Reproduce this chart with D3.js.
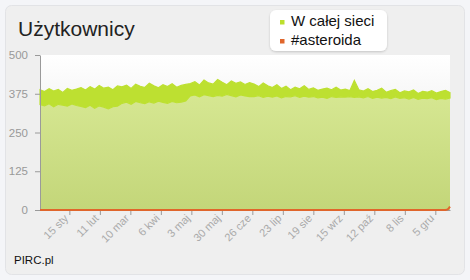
<!DOCTYPE html>
<html><head><meta charset="utf-8">
<script src="https://cdn.jsdelivr.net/npm/d3@7"></script>
<style>
html,body{margin:0;padding:0;background:#f4f5f8;}
svg{display:block;font-family:"Liberation Sans",Arial,sans-serif;}
</style></head>
<body><svg id="c" width="470" height="280"></svg>
<script>
const title = "Użytkownicy";
const seriesNames = ["W całej sieci", "#asteroida"];
const startDate = "2012-12-20";
const endDate = "2013-12-18";
// daily max / min of the oscillating user count (one pair per ~4 days)
const highs = [388,382,391,384,389,379,392,386,390,
  395,387,398,390,402,393,396,388,400,
  397,403,392,406,399,395,409,401,394,404,398,407,396,402,405,
  408,414,403,419,410,406,421,412,404,416,409,413,405,411,
  406,398,410,401,395,404,392,399,388,396,391,401,389,394,386,
  390,393,388,396,387,390,385,418,
  388,384,391,382,386,393,380,385,389,378,384,381,387,376,383,380,385,377,382,386,379];
const lows = [340,336,343,333,341,338,335,342,337,
  334,330,338,328,336,332,326,333,335,
  344,348,341,350,346,343,349,345,351,347,344,350,346,348,352,
  368,371,365,372,369,366,370,367,373,369,365,371,368,366,
  366,369,363,367,364,368,362,366,365,369,363,367,364,366,362,
  364,360,366,363,365,364,366,363,
  365,362,366,360,364,361,363,359,365,360,362,358,363,357,361,359,362,356,360,358,361];
const asteroidaDates = ["2012-12-20","2013-12-14","2013-12-16","2013-12-17","2013-12-18"];
const asteroidaValues = [0,0,2,6,11];
const yTicks = [0,125,250,375,500];
const tickDates = ["2013-01-15","2013-02-11","2013-03-10","2013-04-06","2013-05-03","2013-05-30","2013-06-26","2013-07-23","2013-08-19","2013-09-15","2013-10-12","2013-11-08","2013-12-05"];
const tickLabels = ["15 sty","11 lut","10 mar","6 kwi","3 maj","30 maj","26 cze","23 lip","19 sie","15 wrz","12 paź","8 lis","5 gru"];

const parse = d3.utcParse("%Y-%m-%d");
const svg = d3.select("#c");
const m = {l:40, r:450, t:55, b:210};
const x = d3.scaleUtc().domain([parse(startDate), parse(endDate)]).range([m.l, m.r]);
const y = d3.scaleLinear().domain([0,500]).range([m.b, m.t]);

const t0 = +parse(startDate), t1 = +parse(endDate);
const pts = highs.map((h,i)=>({t:new Date(t0 + (t1-t0)*i/(highs.length-1)), hi:h, lo:lows[i]}));

const defs = svg.append("defs");
const bgG = defs.append("linearGradient").attr("id","bgG").attr("x1",0).attr("y1",0).attr("x2",0).attr("y2",1);
bgG.append("stop").attr("offset","0%").attr("stop-color","#ffffff");
bgG.append("stop").attr("offset","45%").attr("stop-color","#f1f1f1");
bgG.append("stop").attr("offset","100%").attr("stop-color","#ececec");
const arG = defs.append("linearGradient").attr("id","arG").attr("x1",0).attr("y1",0).attr("x2",0).attr("y2",1);
arG.append("stop").attr("offset","0%").attr("stop-color","#d6e792");
arG.append("stop").attr("offset","100%").attr("stop-color","#c3d679");
const sh = defs.append("filter").attr("id","sh").attr("x","-10%").attr("y","-20%").attr("width","120%").attr("height","150%");
sh.append("feDropShadow").attr("dx",0).attr("dy",1).attr("stdDeviation",1.2).attr("flood-color","#000").attr("flood-opacity",0.18);

svg.append("rect").attr("x",5.5).attr("y",5.5).attr("width",459).attr("height",269).attr("rx",6)
  .attr("fill","#efefef").attr("stroke","#e2e3e6");

svg.append("rect").attr("x",m.l).attr("y",m.t).attr("width",m.r-m.l).attr("height",m.b-m.t).attr("fill","url(#bgG)");

// area under the series
svg.append("path").datum(pts).attr("fill","url(#arG)")
  .attr("d", d3.area().x(d=>x(d.t)).y0(y(0)).y1(d=>y(d.lo)));
// oscillation band between daily min and max
svg.append("path").datum(pts).attr("fill","#bde031").attr("stroke","#bde031").attr("stroke-width",1.2)
  .attr("stroke-linejoin","miter")
  .attr("d", d3.area().x(d=>x(d.t)).y0(d=>y(d.lo)).y1(d=>y(d.hi)));

const ya = svg.append("g").attr("transform",`translate(${m.l},0)`)
  .call(d3.axisLeft(y).tickValues(yTicks).tickSize(5).tickPadding(7).tickSizeOuter(0));
ya.select(".domain").attr("stroke","#9a9a9a");
ya.selectAll(".tick line").attr("stroke","#9a9a9a");
ya.selectAll("text").attr("fill","#999").attr("font-size",11.5).attr("font-family","Liberation Sans, Arial, sans-serif");

const tds = tickDates.map(parse);
const xa = svg.append("g").attr("transform",`translate(0,${m.b})`)
  .call(d3.axisBottom(x).tickValues(tds).tickSize(5).tickSizeOuter(0).tickFormat((d,i)=>tickLabels[i]));
xa.select(".domain").attr("stroke","#9a9a9a");
xa.selectAll(".tick line").attr("stroke","#9a9a9a");
xa.selectAll("text").attr("fill","#aaa").attr("font-size",11).attr("font-family","Liberation Sans, Arial, sans-serif")
  .attr("text-anchor","end").attr("dy",0).attr("y",0)
  .attr("transform","translate(-1,9) rotate(-45)");

const ast = asteroidaDates.map((d,i)=>({t:parse(d), v:asteroidaValues[i]}));
svg.append("path").datum(ast).attr("fill","none").attr("stroke","#e0662c").attr("stroke-width",2)
  .attr("d", d3.line().x(d=>x(d.t)).y(d=>y(d.v)));

svg.append("text").attr("x",18).attr("y",36).attr("font-size",21).attr("fill","#222").text(title);

const lg = svg.append("g");
lg.append("rect").attr("x",270).attr("y",10).attr("width",117).attr("height",41).attr("rx",6)
  .attr("fill","#fff").attr("filter","url(#sh)");
const colors = ["#bcdf2c","#e0662c"];
seriesNames.forEach((s,i)=>{
  lg.append("rect").attr("x",280).attr("y",20+i*19).attr("width",4.5).attr("height",4.5).attr("fill",colors[i]);
  lg.append("text").attr("x",291).attr("y",26+i*19).attr("font-size",15).attr("fill","#111").text(s);
});

svg.append("text").attr("x",14).attr("y",264).attr("font-size",11.5).attr("fill","#111").text("PIRC.pl");
</script></body></html>
